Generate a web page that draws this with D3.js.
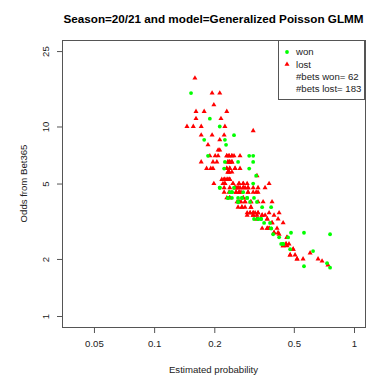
<!DOCTYPE html>
<html><head><meta charset="utf-8">
<script src="https://cdn.jsdelivr.net/npm/d3@7"></script>
<style>html,body{margin:0;padding:0;background:#fff}svg{display:block}</style>
</head><body>
<svg id="chart" width="369" height="377"></svg>
<script>
// Axis ticks
const xTicks = [0.05, 0.1, 0.2, 0.5, 1];
const yTicks = [1, 2, 5, 10, 25];

// Legend
const legendLabels = ["won", "lost"];
const betCounts = [62, 183];

// Bets that were won: [estimated probability, Bet365 odds]
const won = [
  [0.153, 15], [0.190, 11], [0.213, 10], [0.251, 9], [0.178, 8.5], [0.226, 8.5],
  [0.229, 8], [0.186, 7], [0.299, 7], [0.313, 7], [0.226, 6.5], [0.263, 6.5],
  [0.313, 6.5], [0.224, 6], [0.299, 6], [0.324, 5.5], [0.313, 5], [0.213, 4.75],
  [0.251, 4.75], [0.239, 4.5], [0.245, 4.5], [0.279, 4.5], [0.234, 4.2], [0.245, 4.2],
  [0.263, 4.2], [0.275, 4.2], [0.292, 4.2], [0.316, 4.2], [0.263, 4], [0.302, 4],
  [0.327, 4], [0.347, 3.75], [0.385, 3.75], [0.316, 3.25], [0.331, 3.25], [0.343, 3.25],
  [0.355, 3.1], [0.380, 3.1], [0.385, 2.9], [0.484, 2.75], [0.562, 2.75], [0.394, 2.7],
  [0.422, 2.6], [0.468, 2.6], [0.432, 2.4], [0.442, 2.4], [0.479, 2.25], [0.562, 1.83],
  [0.624, 2.2], [0.733, 1.9], [0.759, 2.7], [0.759, 1.8],
  [0.245, 4.5], [0.234, 4.2], [0.263, 4], [0.275, 4.2], [0.331, 3.25], [0.343, 3.25],
  [0.385, 2.9], [0.442, 2.4], [0.213, 4.75], [0.292, 4.2]
];

// Bets that were lost: [estimated probability, Bet365 odds]
const lost = [
  [0.160, 18],
  [0.195, 15], [0.213, 15],
  [0.199, 13],
  [0.162, 12], [0.178, 12], [0.231, 12],
  [0.162, 11], [0.216, 11],
  [0.146, 10], [0.157, 10], [0.172, 10], [0.226, 10],
  [0.313, 9.5],
  [0.172, 9], [0.195, 9], [0.224, 9],
  [0.213, 8.5],
  [0.186, 8],
  [0.209, 7.5], [0.213, 7.5],
  [0.190, 7], [0.202, 7], [0.209, 7], [0.231, 7], [0.237, 7], [0.245, 7], [0.251, 7], [0.269, 7],
  [0.172, 6.5], [0.197, 6.5], [0.206, 6.5], [0.234, 6.5], [0.239, 6.5], [0.245, 6.5],
  [0.183, 6], [0.192, 6], [0.197, 6], [0.231, 6], [0.239, 6], [0.254, 6], [0.269, 6],
  [0.234, 5.75], [0.237, 5.75], [0.245, 5.75],
  [0.327, 5.5],
  [0.218, 5.25], [0.224, 5.25], [0.229, 5.25], [0.234, 5.25], [0.239, 5.25],
  [0.199, 5], [0.221, 5], [0.226, 5], [0.248, 5], [0.266, 5], [0.279, 5], [0.292, 5], [0.376, 5],
  [0.224, 4.75], [0.239, 4.75], [0.254, 4.75], [0.257, 4.75], [0.263, 4.75], [0.269, 4.75],
  [0.279, 4.75], [0.285, 4.75], [0.295, 4.75], [0.313, 4.75], [0.331, 4.75], [0.359, 4.75],
  [0.224, 4.5], [0.237, 4.5], [0.257, 4.5], [0.266, 4.5], [0.272, 4.5], [0.295, 4.5],
  [0.313, 4.5], [0.324, 4.5], [0.331, 4.5],
  [0.231, 4.2], [0.239, 4.2], [0.279, 4.2],
  [0.260, 4], [0.266, 4], [0.272, 4], [0.285, 4], [0.305, 4], [0.331, 4], [0.351, 4], [0.389, 4],
  [0.263, 3.75], [0.275, 3.75], [0.285, 3.75], [0.305, 3.75],
  [0.292, 3.5], [0.302, 3.5], [0.313, 3.5], [0.320, 3.5], [0.331, 3.5], [0.376, 3.5], [0.422, 3.5],
  [0.292, 3.4], [0.313, 3.4], [0.327, 3.4], [0.347, 3.4], [0.359, 3.4], [0.398, 3.4],
  [0.327, 3.25], [0.368, 3.25], [0.417, 3.25],
  [0.389, 3.1], [0.442, 3.1],
  [0.347, 2.9], [0.368, 2.9], [0.376, 2.9], [0.412, 2.9],
  [0.398, 2.75], [0.417, 2.75],
  [0.422, 2.7],
  [0.462, 2.6],
  [0.457, 2.4], [0.473, 2.4],
  [0.442, 2.35], [0.462, 2.35],
  [0.496, 2.25],
  [0.479, 2.1], [0.507, 2.1],
  [0.519, 2], [0.556, 2],
  [0.603, 2.15], [0.661, 2], [0.692, 1.95], [0.741, 1.86],
  // repeated odds/probability pairs that sit on top of each other
  [0.231, 7], [0.237, 7], [0.245, 7],
  [0.234, 6.5], [0.239, 6.5], [0.245, 6.5],
  [0.231, 6], [0.239, 6], [0.254, 6],
  [0.234, 5.75], [0.237, 5.75],
  [0.224, 5.25], [0.234, 5.25], [0.239, 5.25],
  [0.248, 5], [0.266, 5], [0.279, 5],
  [0.254, 4.75], [0.263, 4.75], [0.279, 4.75], [0.295, 4.75],
  [0.257, 4.5], [0.266, 4.5], [0.295, 4.5],
  [0.239, 4.2], [0.279, 4.2],
  [0.266, 4], [0.285, 4], [0.305, 4],
  [0.275, 3.75], [0.305, 3.75],
  [0.302, 3.5], [0.313, 3.5], [0.331, 3.5],
  [0.313, 3.4], [0.347, 3.4],
  [0.368, 3.25], [0.327, 3.25],
  [0.389, 3.1],
  [0.368, 2.9], [0.376, 2.9],
  [0.398, 2.75],
  [0.462, 2.6],
  [0.457, 2.4],
  [0.442, 2.35],
  [0.496, 2.25],
  [0.479, 2.1],
  [0.519, 2],
  [0.226, 5]
];

const svg = d3.select("#chart");
const font = "Liberation Sans, Arial, sans-serif";
const ink = "#222";
const plot = { left: 62, right: 365, top: 40, bottom: 327 };

const x = d3.scaleLog().domain([0.0346, 1.135]).range([plot.left, plot.right]);
const y = d3.scaleLog().domain([0.875, 28.6]).range([plot.bottom, plot.top]);

// Title
svg.append("text")
  .attr("x", (plot.left + plot.right) / 2).attr("y", 23)
  .attr("text-anchor", "middle")
  .attr("font-family", font).attr("font-weight", "bold").attr("font-size", 11.7)
  .attr("fill", "#000")
  .text("Season=20/21 and model=Generalized Poisson GLMM");

// X axis
const gx = svg.append("g")
  .attr("transform", `translate(0,${plot.bottom})`)
  .call(d3.axisBottom(x).tickValues(xTicks).tickFormat(d => String(d)).tickSize(6).tickPadding(7).tickSizeOuter(0));
gx.select(".domain").remove();
gx.selectAll("line").attr("stroke", "#555");
gx.selectAll("text").attr("font-family", font).attr("font-size", 9.6).attr("fill", ink);

// Y axis with labels turned upright along the axis
const gy = svg.append("g")
  .attr("transform", `translate(${plot.left},0)`)
  .call(d3.axisLeft(y).tickValues(yTicks).tickFormat(d => String(d)).tickSize(5).tickSizeOuter(0));
gy.select(".domain").remove();
gy.selectAll("line").attr("stroke", "#555");
gy.selectAll("text")
  .attr("x", null).attr("dy", null)
  .attr("text-anchor", "middle")
  .attr("transform", "translate(-13.5,0) rotate(-90)")
  .attr("font-family", font).attr("font-size", 9.6).attr("fill", ink);

// Axis titles
svg.append("text")
  .attr("x", (plot.left + plot.right) / 2).attr("y", 373)
  .attr("text-anchor", "middle")
  .attr("font-family", font).attr("font-size", 9.6).attr("fill", ink)
  .text("Estimated probability");
svg.append("text")
  .attr("transform", `translate(26.5,${(plot.top + plot.bottom) / 2}) rotate(-90)`)
  .attr("text-anchor", "middle")
  .attr("font-family", font).attr("font-size", 9.6).attr("fill", ink)
  .text("Odds from Bet365");

// Plot frame
svg.append("rect")
  .attr("x", plot.left + 0.5).attr("y", plot.top + 0.5)
  .attr("width", plot.right - plot.left).attr("height", plot.bottom - plot.top)
  .attr("fill", "none").attr("stroke", "#555");

// Points: lost bets first, won bets drawn over them
const tri = d3.symbol().type(d3.symbolTriangle).size(11);
svg.append("g").selectAll("path").data(lost).join("path")
  .attr("d", tri)
  .attr("transform", d => `translate(${x(d[0])},${y(d[1])})`)
  .attr("fill", "#ff0000");
svg.append("g").selectAll("circle").data(won).join("circle")
  .attr("cx", d => x(d[0])).attr("cy", d => y(d[1]))
  .attr("r", 1.9)
  .attr("fill", "#00ff00");

// Legend
const lg = svg.append("g");
lg.append("rect")
  .attr("x", 278.5).attr("y", plot.top + 0.5).attr("width", 86).attr("height", 59)
  .attr("fill", "#fff").attr("stroke", "#555");
const rowY = [52, 64.3, 76.6, 88.9];
lg.append("circle").attr("cx", 287).attr("cy", rowY[0]).attr("r", 1.9).attr("fill", "#00ff00");
lg.append("path").attr("d", tri).attr("transform", `translate(287,${rowY[1]})`).attr("fill", "#ff0000");
const legendText = [
  legendLabels[0],
  legendLabels[1],
  `#bets won= ${betCounts[0]}`,
  `#bets lost= ${betCounts[1]}`
];
lg.selectAll("text.item").data(legendText).join("text")
  .attr("class", "item")
  .attr("x", 296).attr("y", (d, i) => rowY[i])
  .attr("dy", "0.35em")
  .attr("font-family", font).attr("font-size", 9.6).attr("fill", ink)
  .text(d => d);
</script>
</body></html>
